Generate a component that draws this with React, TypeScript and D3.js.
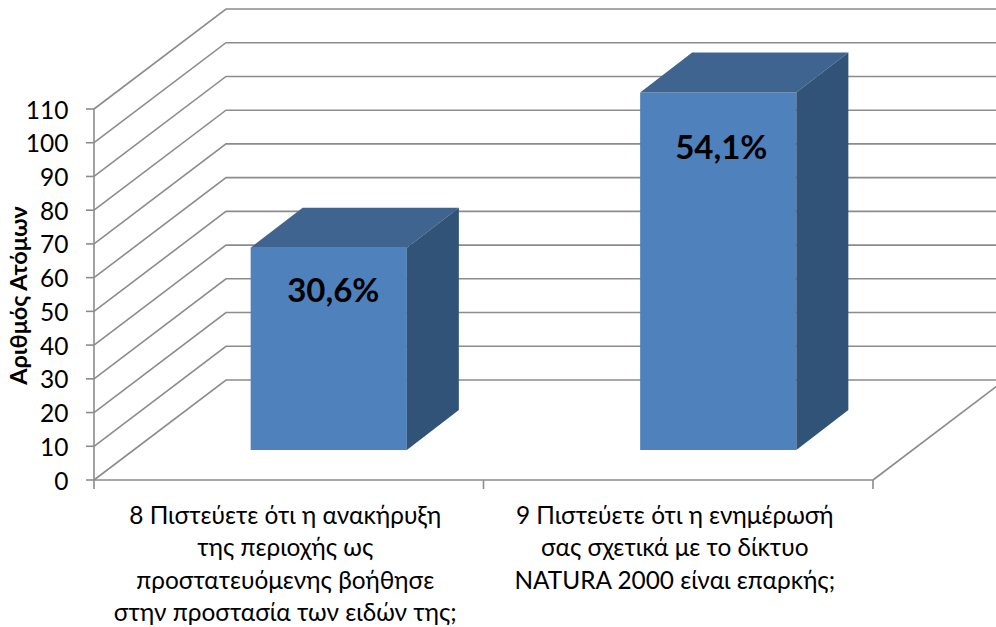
import React from "react";
import * as d3 from "d3";

const categories = ["8", "9"];
const categoryLines = [
  ["8 Πιστεύετε ότι η ανακήρυξη", "της περιοχής ως", "προστατευόμενης βοήθησε", "στην προστασία των ειδών της;"],
  ["9 Πιστεύετε ότι η ενημέρωσή", "σας σχετικά με το δίκτυο", "NATURA 2000 είναι επαρκής;"],
];
const values = [60, 106];
const valueLabels = ["30,6%", "54,1%"];
const yTicks = [0, 10, 20, 30, 40, 50, 60, 70, 80, 90, 100, 110];
const yTitle = "Αριθμός Ατόμων";

const W = 996;
const H = 627;
const FONT = "Lato, 'Noto Sans', sans-serif";
const GRID = "#8c8c8c";
const wallDx = 132;
const wallDy = -100;
const barBackDx = 40;
const barBackDy = -30;
const depthDx = 52;
const depthDy = -40;
const labelDrop = [54, 67];
const labelShift = [4.5, 3];

const y = d3.scaleLinear().domain([0, 110]).range([480, 109]);
const x = d3.scaleBand<string>().domain(categories).range([94, 873]).paddingInner(0).paddingOuter(0);
const barW = x.bandwidth() * 0.401;

export default function App() {
  const line = d3.line();
  return (
    <svg width={W} height={H} viewBox={`0 0 ${W} ${H}`} style={{ position: "absolute", left: 0, top: 0, background: "#fff" }} fontFamily={FONT}>
      {yTicks.map((t) => (
        <path
          key={t}
          d={line([[x.range()[0], y(t)], [x.range()[0] + wallDx, y(t) + wallDy], [W, y(t) + wallDy]]) ?? ""}
          fill="none"
          stroke={GRID}
          strokeWidth={1.6}
        />
      ))}
      <path d={line([[873, y(0)], [873 + wallDx, y(0) + wallDy]]) ?? ""} stroke={GRID} strokeWidth={1.6} fill="none" />
      <path d={line([[94, y(110)], [94, y(0)], [873, y(0)]]) ?? ""} stroke={GRID} strokeWidth={1.6} fill="none" />
      {yTicks.map((t) => (
        <g key={t}>
          <line x1={86} x2={94} y1={y(t)} y2={y(t)} stroke={GRID} strokeWidth={1.6} />
          <text x={68.5} y={y(t) + 9.5} textAnchor="end" fontSize={24.5} fill="#000">{t}</text>
        </g>
      ))}
      {[...categories.map((c) => x(c) as number), 873].map((px) => (
        <line key={px} x1={px} x2={px} y1={480} y2={489} stroke={GRID} strokeWidth={1.6} />
      ))}
      {categories.map((c, i) => {
        const bx = (x(c) as number) + x.bandwidth() / 2 + barBackDx - barW / 2;
        const top = y(values[i]) + barBackDy;
        const bottom = y(0) + barBackDy;
        return (
          <g key={c}>
            <rect x={bx} y={top} width={barW} height={bottom - top} fill="#4f81bd" />
            <path d={`M${bx},${top}L${bx + depthDx},${top + depthDy}L${bx + barW + depthDx},${top + depthDy}L${bx + barW},${top}Z`} fill="#3e648f" />
            <path d={`M${bx + barW},${top}L${bx + barW + depthDx},${top + depthDy}L${bx + barW + depthDx},${bottom + depthDy}L${bx + barW},${bottom}Z`} fill="#325378" />
            <text x={bx + barW / 2 + labelShift[i]} y={top + labelDrop[i]} textAnchor="middle" fontSize={33} fontWeight={700} fill="#000">{valueLabels[i]}</text>
            {categoryLines[i].map((l, j) => (
              <text key={j} x={(x(c) as number) + x.bandwidth() / 2 - 3.5} y={524 + j * 32.3} textAnchor="middle" fontSize={24.4} fill="#000">{l}</text>
            ))}
          </g>
        );
      })}
      <text transform="translate(27,295.5) rotate(-90)" textAnchor="middle" fontSize={23.5} fontWeight={700} fill="#000">{yTitle}</text>
    </svg>
  );
}
